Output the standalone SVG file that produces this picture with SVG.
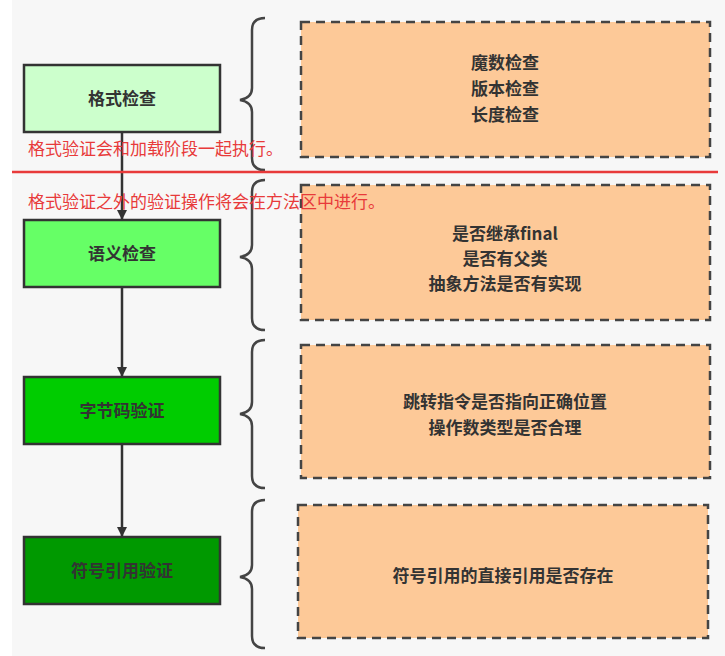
<svg xmlns="http://www.w3.org/2000/svg" width="725" height="656" viewBox="0 0 725 656">
<style>
.n{stroke:#333;stroke-width:2.5}
.t{font-family:"Noto Sans CJK SC",sans-serif;font-weight:bold;font-size:17px;fill:#333;text-anchor:middle}
.d{fill:#fdc998;stroke:#444;stroke-width:2.5;stroke-dasharray:9 6}
.b{fill:none;stroke:#444;stroke-width:2.5}
.r{font-family:"Noto Sans CJK SC",sans-serif;font-size:17px;fill:#e83a3a}
</style>
<defs><marker id="a" markerWidth="10" markerHeight="10" refX="9" refY="5" orient="auto" markerUnits="userSpaceOnUse"><path d="M0,0L10,5L0,10z" fill="#333"/></marker></defs>
<rect width="725" height="656" fill="#fff"/>
<rect x="12" y="0" width="713" height="656" fill="#f7f7f7"/>
<g id="connectors" stroke="#333" stroke-width="2.5">
<line x1="122" y1="132" x2="122" y2="219" marker-end="url(#a)"/>
<line x1="122" y1="288" x2="122" y2="376" marker-end="url(#a)"/>
<line x1="122" y1="445" x2="122" y2="536" marker-end="url(#a)"/>
</g>
<g id="n1"><rect class="n" x="24" y="65" width="196" height="67" fill="#ccffcc"/><text class="t" x="122" y="105">格式检查</text></g>
<g id="n2"><rect class="n" x="24" y="220" width="196" height="67" fill="#66ff66"/><text class="t" x="122" y="260">语义检查</text></g>
<g id="n3"><rect class="n" x="24" y="377" width="196" height="67" fill="#00cc00"/><text class="t" x="122" y="417">字节码验证</text></g>
<g id="n4"><rect class="n" x="24" y="537" width="196" height="67" fill="#009900"/><text class="t" x="122" y="577">符号引用验证</text></g>
<g id="braces">
<path class="b" d="M265,18 Q252,18 252,30 L252,88 Q252,98 240,100 Q252,102 252,112 L252,158 Q252,170 265,170"/>
<path class="b" d="M265,180 Q252,180 252,192 L252,245 Q252,255 240,257 Q252,259 252,269 L252,318 Q252,330 265,330"/>
<path class="b" d="M265,340 Q252,340 252,352 L252,402 Q252,412 240,414 Q252,416 252,426 L252,476 Q252,488 265,488"/>
<path class="b" d="M265,500 Q252,500 252,512 L252,565 Q252,575 240,577 Q252,579 252,589 L252,636 Q252,648 265,648"/>
</g>
<g id="d1"><rect class="d" x="301" y="22" width="409" height="135"/>
<text class="t" x="505" y="69">魔数检查</text><text class="t" x="505" y="95">版本检查</text><text class="t" x="505" y="121">长度检查</text></g>
<g id="d2"><rect class="d" x="301" y="185" width="409" height="135"/>
<text class="t" x="505" y="240">是否继承final</text><text class="t" x="505" y="265">是否有父类</text><text class="t" x="505" y="290">抽象方法是否有实现</text></g>
<g id="d3"><rect class="d" x="301" y="345" width="409" height="133"/>
<text class="t" x="505" y="408">跳转指令是否指向正确位置</text><text class="t" x="505" y="434">操作数类型是否合理</text></g>
<g id="d4"><rect class="d" x="298" y="505" width="410" height="133"/>
<text class="t" x="503" y="582">符号引用的直接引用是否存在</text></g>
<line x1="12" y1="172" x2="718" y2="172" stroke="#e83a3a" stroke-width="2.5"/>
<text class="r" x="28" y="155">格式验证会和加载阶段一起执行。</text>
<text class="r" x="28" y="208">格式验证之外的验证操作将会在方法区中进行。</text>
</svg>
